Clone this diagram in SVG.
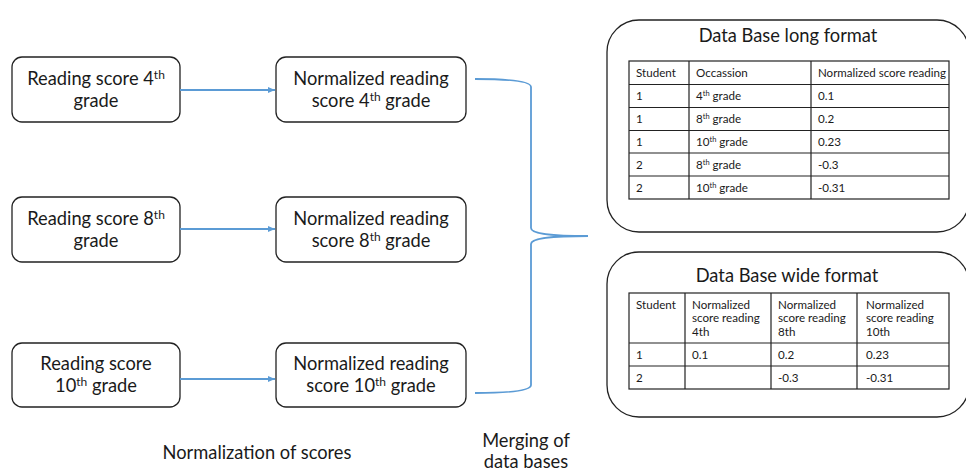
<svg xmlns="http://www.w3.org/2000/svg" width="966" height="473" viewBox="0 0 966 473">
<defs>
<style>
.t{font-family:Lato,"Liberation Sans",sans-serif;fill:#1a1a1a}
.n{font-size:18.3px}
.s{font-size:11.6px}
.h{font-size:18.3px}
.box{fill:#fff;stroke:#222;stroke-width:1.3}
.big{fill:#fff;stroke:#222;stroke-width:1.3}
.tb{fill:none;stroke:#222;stroke-width:1.2}
.conn{fill:none;stroke:#5b9bd5;stroke-width:1.8}
</style>
<marker id="ah" markerWidth="8" markerHeight="8" refX="7" refY="4" orient="auto" markerUnits="userSpaceOnUse">
<path d="M0,1 L7,4 L0,7 z" fill="#5b9bd5"/>
</marker>
</defs>

<g id="n1">
<rect class="box" x="12" y="57" width="168" height="65" rx="10"/>
<text class="t n" x="96" y="85" text-anchor="middle">Reading score 4<tspan font-size="12" dy="-6">th</tspan></text>
<text class="t n" x="96" y="107" text-anchor="middle">grade</text>
</g>
<g id="n2">
<rect class="box" x="276" y="57" width="190" height="65" rx="10"/>
<text class="t n" x="371" y="85" text-anchor="middle">Normalized reading</text>
<text class="t n" x="371" y="107" text-anchor="middle">score 4<tspan font-size="12" dy="-6">th</tspan><tspan dy="6"> grade</tspan></text>
</g>
<g id="n3">
<rect class="box" x="12" y="197" width="168" height="65" rx="10"/>
<text class="t n" x="96" y="225" text-anchor="middle">Reading score 8<tspan font-size="12" dy="-6">th</tspan></text>
<text class="t n" x="96" y="247" text-anchor="middle">grade</text>
</g>
<g id="n4">
<rect class="box" x="276" y="197" width="190" height="65" rx="10"/>
<text class="t n" x="371" y="225" text-anchor="middle">Normalized reading</text>
<text class="t n" x="371" y="247" text-anchor="middle">score 8<tspan font-size="12" dy="-6">th</tspan><tspan dy="6"> grade</tspan></text>
</g>
<g id="n5">
<rect class="box" x="12" y="343" width="168" height="64" rx="10"/>
<text class="t n" x="96" y="370" text-anchor="middle">Reading score</text>
<text class="t n" x="96" y="392" text-anchor="middle">10<tspan font-size="12" dy="-6">th</tspan><tspan dy="6"> grade</tspan></text>
</g>
<g id="n6">
<rect class="box" x="276" y="343" width="190" height="64" rx="10"/>
<text class="t n" x="371" y="370" text-anchor="middle">Normalized reading</text>
<text class="t n" x="371" y="392" text-anchor="middle">score 10<tspan font-size="12" dy="-6">th</tspan><tspan dy="6"> grade</tspan></text>
</g>

<g id="connectors">
<line class="conn" x1="180" y1="90" x2="275" y2="90" marker-end="url(#ah)"/>
<line class="conn" x1="180" y1="229" x2="275" y2="229" marker-end="url(#ah)"/>
<line class="conn" x1="180" y1="379" x2="275" y2="379" marker-end="url(#ah)"/>
<path class="conn" stroke-width="1.5" d="M475,79 C515,79 531,82 531,87 L531,228 C531,233 545,236 588,236 C545,236 531,239 531,244 L531,385 C531,390 515,393 475,393"/>
</g>

<g id="longdb">
<rect class="big" x="607" y="20" width="362" height="212" rx="32"/>
<text class="t h" x="788" y="42" text-anchor="middle">Data Base long format</text>
<rect class="tb" x="629" y="61" width="320" height="138"/>
<path class="tb" d="M629,84.5 H949 M629,107.5 H949 M629,130.5 H949 M629,153 H949 M629,176 H949 M689,61 V199 M811,61 V199"/>
<g class="t s">
<text x="636" y="77">Student</text><text x="696" y="77">Occassion</text><text x="818" y="77" textLength="128" lengthAdjust="spacingAndGlyphs">Normalized score reading</text>
<text x="636" y="100">1</text><text x="696" y="100">4<tspan font-size="7.5" dy="-4">th</tspan><tspan dy="4"> grade</tspan></text><text x="818" y="100">0.1</text>
<text x="636" y="123">1</text><text x="696" y="123">8<tspan font-size="7.5" dy="-4">th</tspan><tspan dy="4"> grade</tspan></text><text x="818" y="123">0.2</text>
<text x="636" y="146">1</text><text x="696" y="146">10<tspan font-size="7.5" dy="-4">th</tspan><tspan dy="4"> grade</tspan></text><text x="818" y="146">0.23</text>
<text x="636" y="169">2</text><text x="696" y="169">8<tspan font-size="7.5" dy="-4">th</tspan><tspan dy="4"> grade</tspan></text><text x="818" y="169">-0.3</text>
<text x="636" y="192">2</text><text x="696" y="192">10<tspan font-size="7.5" dy="-4">th</tspan><tspan dy="4"> grade</tspan></text><text x="818" y="192">-0.31</text>
</g>
</g>

<g id="widedb">
<rect class="big" x="607" y="252" width="362" height="165" rx="32"/>
<text class="t h" x="787" y="282" text-anchor="middle">Data Base wide format</text>
<rect class="tb" x="629" y="293" width="320" height="96"/>
<path class="tb" d="M629,343 H949 M629,366 H949 M685,293 V389 M771,293 V389 M857,293 V389"/>
<g class="t s">
<text x="636" y="309">Student</text>
<text x="692" y="309">Normalized</text><text x="692" y="322">score reading</text><text x="692" y="336">4th</text>
<text x="778" y="309">Normalized</text><text x="778" y="322">score reading</text><text x="778" y="336">8th</text>
<text x="866" y="309">Normalized</text><text x="866" y="322">score reading</text><text x="866" y="336">10th</text>
<text x="636" y="359">1</text><text x="692" y="359">0.1</text><text x="778" y="359">0.2</text><text x="866" y="359">0.23</text>
<text x="636" y="382">2</text><text x="778" y="382">-0.3</text><text x="866" y="382">-0.31</text>
</g>
</g>

<text class="t n" x="257" y="459" text-anchor="middle">Normalization of scores</text>
<text class="t n" x="526" y="447" text-anchor="middle">Merging of</text>
<text class="t n" x="526" y="468" text-anchor="middle">data bases</text>
</svg>
